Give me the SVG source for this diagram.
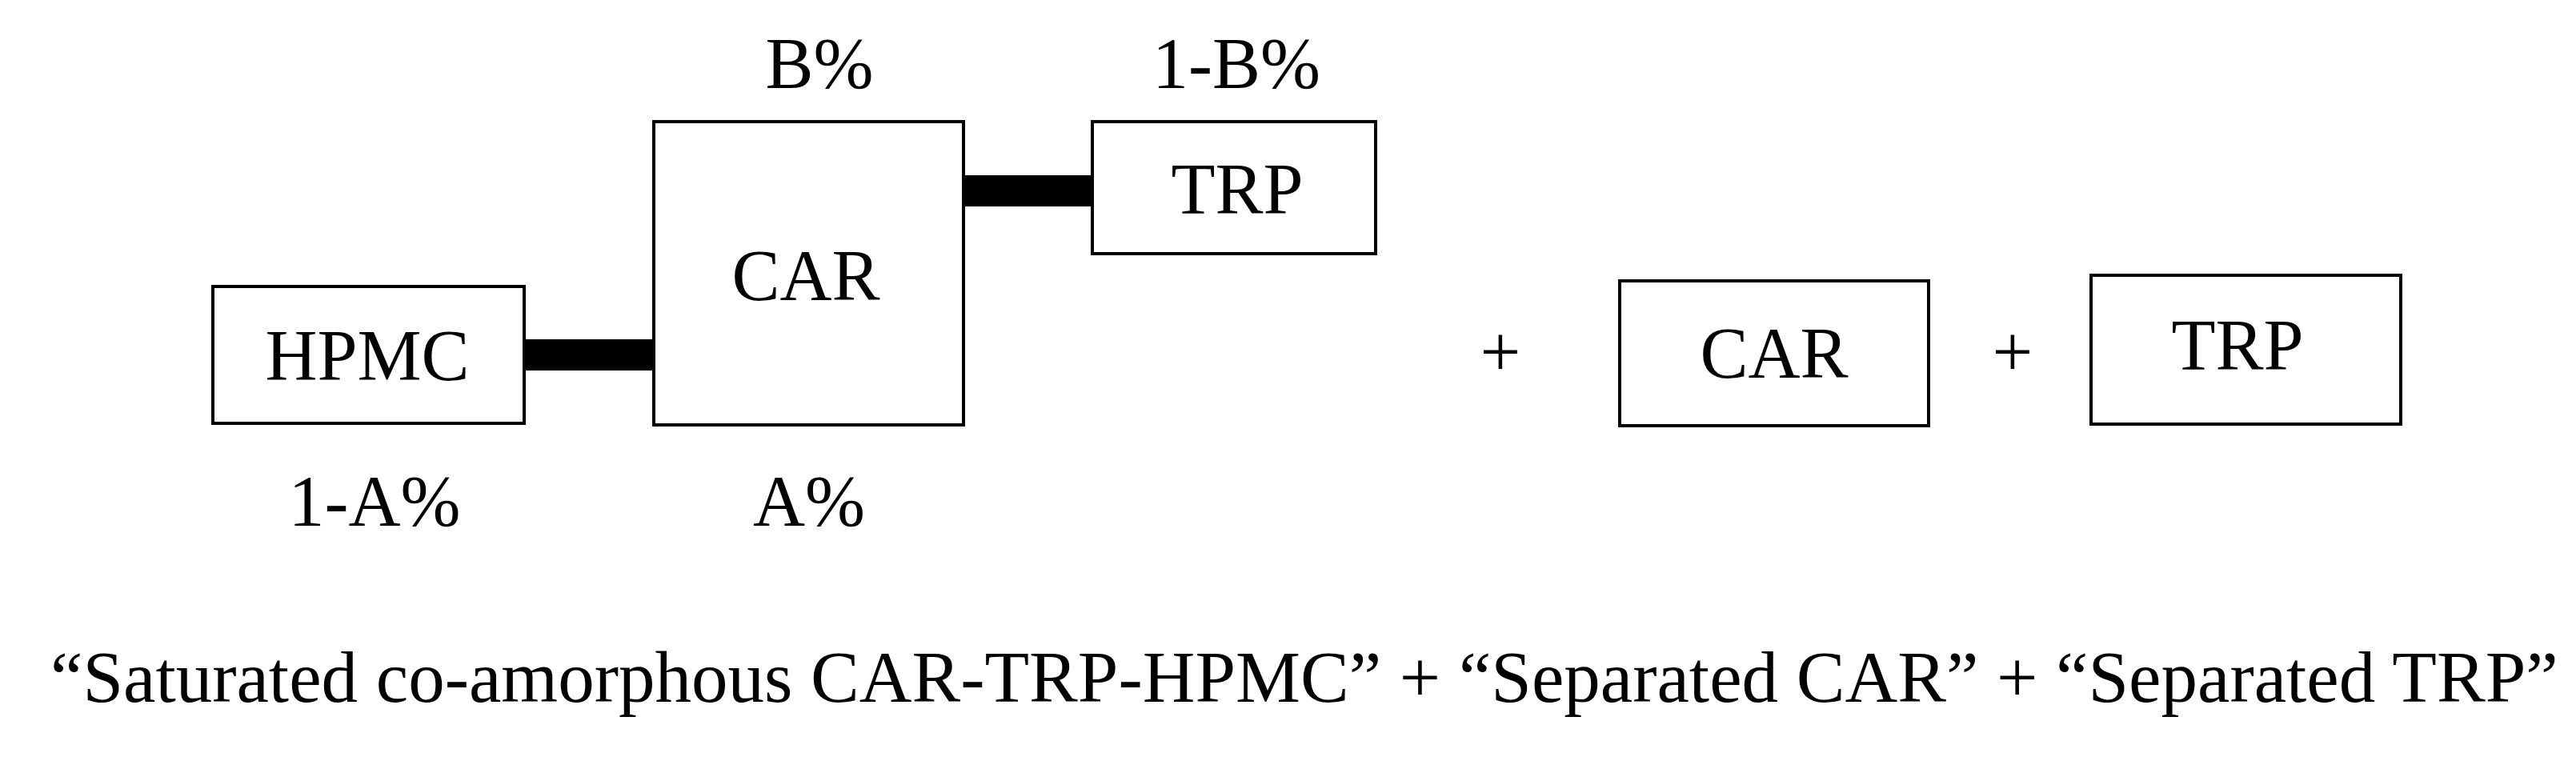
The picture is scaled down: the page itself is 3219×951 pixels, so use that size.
<svg xmlns="http://www.w3.org/2000/svg" width="3219" height="951" viewBox="0 0 3219 951">
<style>
.box{fill:#fff;stroke:#000;stroke-width:4}
.t{font-family:"Liberation Serif","Times New Roman",serif;font-size:90px;fill:#000;text-anchor:middle}
.bar{fill:#000}
</style>
<rect width="3219" height="951" fill="#fff"/>
<g id="connectors">
<rect class="bar" x="655" y="424" width="162" height="39"/>
<rect class="bar" x="1204" y="219" width="161" height="39"/>
</g>
<g id="hpmc"><rect class="box" x="266" y="358" width="389" height="171"/><text class="t" x="459" y="475">HPMC</text></g>
<g id="car"><rect class="box" x="817" y="152" width="387" height="379"/><text class="t" x="1007" y="375">CAR</text></g>
<g id="trp"><rect class="box" x="1365" y="152" width="354" height="165"/><text class="t" x="1546" y="267">TRP</text></g>
<g id="car2"><rect class="box" x="2024" y="351" width="386" height="181"/><text class="t" x="2217" y="472">CAR</text></g>
<g id="trp2"><rect class="box" x="2613" y="344" width="387" height="186"/><text class="t" x="2796" y="462">TRP</text></g>
<g id="labels">
<text class="t" x="1024" y="110">B%</text>
<text class="t" x="1545" y="110">1-B%</text>
<text class="t" x="468" y="657">1-A%</text>
<text class="t" x="1011" y="657">A%</text>
<text class="t" x="1875" y="470">+</text>
<text class="t" x="2515" y="470">+</text>
<text class="t" x="63" y="877" style="text-anchor:start;font-size:91px">“Saturated co-amorphous CAR-TRP-HPMC” + “Separated CAR” + “Separated TRP”</text>
</g>
</svg>
